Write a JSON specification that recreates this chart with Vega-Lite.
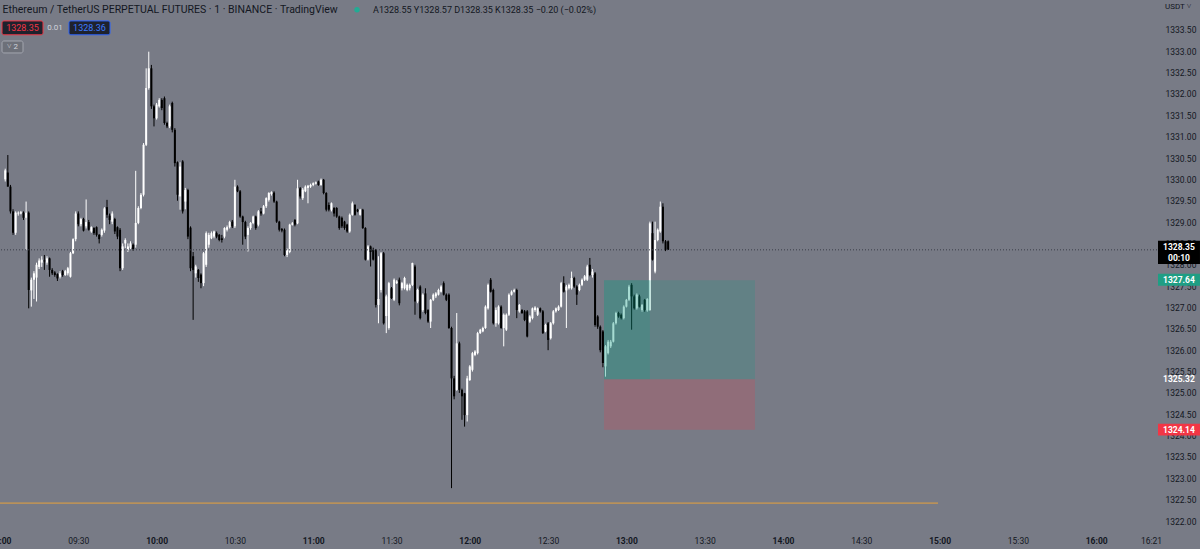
{
"$schema": "https://vega.github.io/schema/vega-lite/v6.json",
"width": 1157,
"height": 527,
"autosize": {"type": "none"},
"padding": {"left": 0, "top": 0, "right": 43, "bottom": 22},
"background": "#787b86",
"config": {"view": {"stroke": null}, "text": {"font": "Roboto"}, "axis": {"grid": false, "domain": false, "ticks": false, "labelFont": "Roboto", "labelFontSize": 8.5, "labelColor": "#131722"}},
"data": {"format": {"parse": {"t": "utc:'%H:%M'"}}, "values": [
{"t":"09:02","o":1330.00,"h":1330.25,"l":1329.95,"c":1330.21},
{"t":"09:03","o":1330.16,"h":1330.57,"l":1329.83,"c":1329.83},
{"t":"09:04","o":1329.83,"h":1329.87,"l":1329.20,"c":1329.25},
{"t":"09:05","o":1329.25,"h":1329.30,"l":1328.70,"c":1328.75},
{"t":"09:06","o":1328.75,"h":1329.25,"l":1328.70,"c":1329.22},
{"t":"09:07","o":1329.20,"h":1329.25,"l":1329.15,"c":1329.22},
{"t":"09:08","o":1329.20,"h":1329.26,"l":1329.18,"c":1329.23},
{"t":"09:09","o":1329.22,"h":1329.25,"l":1329.05,"c":1329.10},
{"t":"09:10","o":1329.10,"h":1329.48,"l":1328.35,"c":1329.22},
{"t":"09:11","o":1329.22,"h":1329.25,"l":1326.98,"c":1327.41},
{"t":"09:12","o":1327.40,"h":1327.70,"l":1327.02,"c":1327.65},
{"t":"09:13","o":1327.65,"h":1327.85,"l":1327.20,"c":1327.80},
{"t":"09:14","o":1327.70,"h":1328.05,"l":1327.14,"c":1328.00},
{"t":"09:15","o":1327.95,"h":1328.15,"l":1327.90,"c":1328.10},
{"t":"09:16","o":1328.05,"h":1328.20,"l":1327.95,"c":1328.12},
{"t":"09:17","o":1328.10,"h":1328.23,"l":1327.88,"c":1328.08},
{"t":"09:18","o":1328.05,"h":1328.20,"l":1328.00,"c":1328.15},
{"t":"09:19","o":1328.15,"h":1328.17,"l":1327.72,"c":1327.88},
{"t":"09:20","o":1327.88,"h":1327.92,"l":1327.76,"c":1327.80},
{"t":"09:21","o":1327.82,"h":1327.85,"l":1327.72,"c":1327.76},
{"t":"09:22","o":1327.78,"h":1327.80,"l":1327.62,"c":1327.68},
{"t":"09:23","o":1327.72,"h":1327.85,"l":1327.68,"c":1327.80},
{"t":"09:24","o":1327.85,"h":1327.88,"l":1327.72,"c":1327.76},
{"t":"09:25","o":1327.76,"h":1327.88,"l":1327.74,"c":1327.85},
{"t":"09:26","o":1327.80,"h":1327.95,"l":1327.75,"c":1327.92},
{"t":"09:27","o":1327.72,"h":1328.30,"l":1327.70,"c":1328.27},
{"t":"09:28","o":1328.27,"h":1328.62,"l":1328.25,"c":1328.60},
{"t":"09:29","o":1328.60,"h":1329.25,"l":1328.55,"c":1329.20},
{"t":"09:30","o":1329.20,"h":1329.25,"l":1328.90,"c":1328.95},
{"t":"09:31","o":1328.95,"h":1329.10,"l":1328.90,"c":1329.07},
{"t":"09:32","o":1329.07,"h":1329.10,"l":1328.78,"c":1328.80},
{"t":"09:33","o":1328.90,"h":1329.53,"l":1328.85,"c":1329.00},
{"t":"09:34","o":1329.00,"h":1329.05,"l":1328.80,"c":1328.82},
{"t":"09:35","o":1328.78,"h":1328.90,"l":1328.75,"c":1328.88},
{"t":"09:36","o":1328.86,"h":1328.88,"l":1328.70,"c":1328.74},
{"t":"09:37","o":1328.88,"h":1328.90,"l":1328.66,"c":1328.70},
{"t":"09:38","o":1328.70,"h":1328.72,"l":1328.50,"c":1328.60},
{"t":"09:39","o":1328.70,"h":1328.85,"l":1328.66,"c":1328.82},
{"t":"09:40","o":1328.80,"h":1329.35,"l":1328.75,"c":1329.32},
{"t":"09:41","o":1329.35,"h":1329.52,"l":1329.10,"c":1329.17},
{"t":"09:42","o":1329.15,"h":1329.20,"l":1328.95,"c":1329.05},
{"t":"09:43","o":1329.01,"h":1329.25,"l":1328.95,"c":1329.20},
{"t":"09:44","o":1329.07,"h":1329.10,"l":1328.72,"c":1328.78},
{"t":"09:45","o":1328.88,"h":1328.90,"l":1328.60,"c":1328.66},
{"t":"09:46","o":1328.82,"h":1328.86,"l":1327.85,"c":1327.92},
{"t":"09:47","o":1327.92,"h":1328.50,"l":1327.88,"c":1328.43},
{"t":"09:48","o":1328.50,"h":1328.62,"l":1328.39,"c":1328.58},
{"t":"09:49","o":1328.35,"h":1328.50,"l":1328.30,"c":1328.43},
{"t":"09:50","o":1328.40,"h":1328.55,"l":1328.35,"c":1328.50},
{"t":"09:51","o":1328.47,"h":1328.50,"l":1328.33,"c":1328.37},
{"t":"09:52","o":1328.47,"h":1330.20,"l":1328.40,"c":1328.98},
{"t":"09:53","o":1328.98,"h":1329.37,"l":1328.95,"c":1329.33},
{"t":"09:54","o":1329.33,"h":1329.68,"l":1329.30,"c":1329.64},
{"t":"09:55","o":1329.64,"h":1330.85,"l":1329.60,"c":1330.81},
{"t":"09:56","o":1330.81,"h":1332.60,"l":1330.78,"c":1332.14},
{"t":"09:57","o":1332.14,"h":1332.99,"l":1332.10,"c":1332.60},
{"t":"09:58","o":1332.60,"h":1332.68,"l":1331.65,"c":1331.71},
{"t":"09:59","o":1331.71,"h":1331.75,"l":1331.24,"c":1331.43},
{"t":"10:00","o":1331.43,"h":1331.79,"l":1331.40,"c":1331.75},
{"t":"10:01","o":1331.71,"h":1331.90,"l":1331.68,"c":1331.86},
{"t":"10:02","o":1331.86,"h":1331.90,"l":1331.62,"c":1331.67},
{"t":"10:03","o":1331.90,"h":1331.94,"l":1331.28,"c":1331.32},
{"t":"10:04","o":1331.32,"h":1331.35,"l":1331.20,"c":1331.24},
{"t":"10:05","o":1331.24,"h":1331.75,"l":1331.20,"c":1331.71},
{"t":"10:06","o":1331.79,"h":1331.82,"l":1331.10,"c":1331.16},
{"t":"10:07","o":1331.16,"h":1331.20,"l":1330.30,"c":1330.38},
{"t":"10:08","o":1330.40,"h":1330.42,"l":1329.50,"c":1329.64},
{"t":"10:09","o":1329.60,"h":1330.40,"l":1329.29,"c":1330.30},
{"t":"10:10","o":1330.42,"h":1330.45,"l":1329.20,"c":1329.25},
{"t":"10:11","o":1329.48,"h":1329.80,"l":1329.30,"c":1329.75},
{"t":"10:12","o":1329.75,"h":1329.78,"l":1328.60,"c":1328.66},
{"t":"10:13","o":1328.87,"h":1328.90,"l":1327.85,"c":1327.92},
{"t":"10:14","o":1328.20,"h":1328.30,"l":1326.71,"c":1327.88},
{"t":"10:15","o":1327.80,"h":1328.00,"l":1327.70,"c":1327.96},
{"t":"10:16","o":1327.88,"h":1327.90,"l":1327.60,"c":1327.69},
{"t":"10:17","o":1327.77,"h":1327.80,"l":1327.45,"c":1327.57},
{"t":"10:18","o":1327.57,"h":1328.30,"l":1327.50,"c":1328.27},
{"t":"10:19","o":1328.00,"h":1328.78,"l":1327.95,"c":1328.74},
{"t":"10:20","o":1328.47,"h":1328.75,"l":1328.40,"c":1328.70},
{"t":"10:21","o":1328.62,"h":1328.78,"l":1328.60,"c":1328.74},
{"t":"10:22","o":1328.66,"h":1328.80,"l":1328.62,"c":1328.78},
{"t":"10:23","o":1328.74,"h":1328.78,"l":1328.62,"c":1328.66},
{"t":"10:24","o":1328.70,"h":1328.72,"l":1328.55,"c":1328.58},
{"t":"10:25","o":1328.62,"h":1328.70,"l":1328.52,"c":1328.58},
{"t":"10:26","o":1328.66,"h":1328.88,"l":1328.62,"c":1328.86},
{"t":"10:27","o":1328.82,"h":1328.92,"l":1328.78,"c":1328.88},
{"t":"10:28","o":1328.88,"h":1329.03,"l":1328.85,"c":1329.00},
{"t":"10:29","o":1329.01,"h":1329.05,"l":1328.86,"c":1328.90},
{"t":"10:30","o":1328.90,"h":1329.99,"l":1328.86,"c":1329.83},
{"t":"10:31","o":1329.83,"h":1329.86,"l":1329.70,"c":1329.72},
{"t":"10:32","o":1329.72,"h":1329.75,"l":1329.10,"c":1329.13},
{"t":"10:33","o":1329.13,"h":1329.15,"l":1328.47,"c":1329.00},
{"t":"10:34","o":1329.00,"h":1329.03,"l":1328.60,"c":1328.66},
{"t":"10:35","o":1328.70,"h":1328.90,"l":1328.31,"c":1328.86},
{"t":"10:36","o":1328.86,"h":1329.00,"l":1328.82,"c":1328.98},
{"t":"10:37","o":1328.98,"h":1329.15,"l":1328.95,"c":1329.13},
{"t":"10:38","o":1329.13,"h":1329.15,"l":1328.82,"c":1328.86},
{"t":"10:39","o":1328.94,"h":1329.28,"l":1328.90,"c":1329.25},
{"t":"10:40","o":1329.25,"h":1329.33,"l":1329.15,"c":1329.20},
{"t":"10:41","o":1329.20,"h":1329.40,"l":1329.18,"c":1329.37},
{"t":"10:42","o":1329.37,"h":1329.58,"l":1329.33,"c":1329.56},
{"t":"10:43","o":1329.52,"h":1329.70,"l":1329.48,"c":1329.68},
{"t":"10:44","o":1329.66,"h":1329.72,"l":1329.62,"c":1329.70},
{"t":"10:45","o":1329.69,"h":1329.72,"l":1329.45,"c":1329.48},
{"t":"10:46","o":1329.48,"h":1329.50,"l":1328.98,"c":1329.01},
{"t":"10:47","o":1329.01,"h":1329.03,"l":1328.78,"c":1328.82},
{"t":"10:48","o":1328.84,"h":1328.86,"l":1328.76,"c":1328.80},
{"t":"10:49","o":1328.82,"h":1328.85,"l":1328.20,"c":1328.23},
{"t":"10:50","o":1328.23,"h":1328.38,"l":1328.18,"c":1328.35},
{"t":"10:51","o":1328.30,"h":1328.96,"l":1328.27,"c":1328.94},
{"t":"10:52","o":1328.94,"h":1329.00,"l":1328.92,"c":1328.97},
{"t":"10:53","o":1329.05,"h":1329.07,"l":1328.90,"c":1328.94},
{"t":"10:54","o":1328.97,"h":1329.99,"l":1328.95,"c":1329.79},
{"t":"10:55","o":1329.79,"h":1329.82,"l":1329.55,"c":1329.60},
{"t":"10:56","o":1329.56,"h":1329.80,"l":1329.52,"c":1329.76},
{"t":"10:57","o":1329.72,"h":1329.86,"l":1329.70,"c":1329.83},
{"t":"10:58","o":1329.80,"h":1329.87,"l":1329.44,"c":1329.85},
{"t":"10:59","o":1329.83,"h":1329.90,"l":1329.80,"c":1329.87},
{"t":"11:00","o":1329.87,"h":1329.93,"l":1329.84,"c":1329.91},
{"t":"11:01","o":1329.90,"h":1329.95,"l":1329.88,"c":1329.93},
{"t":"11:02","o":1329.95,"h":1329.97,"l":1329.85,"c":1329.87},
{"t":"11:03","o":1329.87,"h":1330.02,"l":1329.85,"c":1329.99},
{"t":"11:04","o":1329.99,"h":1330.01,"l":1329.65,"c":1329.68},
{"t":"11:05","o":1329.68,"h":1329.70,"l":1329.25,"c":1329.29},
{"t":"11:06","o":1329.40,"h":1329.46,"l":1329.25,"c":1329.29},
{"t":"11:07","o":1329.29,"h":1329.46,"l":1329.25,"c":1329.44},
{"t":"11:08","o":1329.33,"h":1329.35,"l":1329.13,"c":1329.20},
{"t":"11:09","o":1329.33,"h":1329.35,"l":1329.10,"c":1329.13},
{"t":"11:10","o":1329.13,"h":1329.15,"l":1328.82,"c":1328.86},
{"t":"11:11","o":1329.10,"h":1329.13,"l":1328.86,"c":1328.90},
{"t":"11:12","o":1329.01,"h":1329.03,"l":1328.82,"c":1328.86},
{"t":"11:13","o":1328.94,"h":1328.96,"l":1328.75,"c":1328.78},
{"t":"11:14","o":1328.78,"h":1329.20,"l":1328.75,"c":1329.17},
{"t":"11:15","o":1329.17,"h":1329.48,"l":1329.15,"c":1329.44},
{"t":"11:16","o":1329.40,"h":1329.42,"l":1329.15,"c":1329.17},
{"t":"11:17","o":1329.29,"h":1329.31,"l":1329.23,"c":1329.25},
{"t":"11:18","o":1329.17,"h":1329.31,"l":1329.15,"c":1329.29},
{"t":"11:19","o":1329.29,"h":1329.31,"l":1328.84,"c":1328.86},
{"t":"11:20","o":1328.86,"h":1328.88,"l":1328.10,"c":1328.12},
{"t":"11:21","o":1328.12,"h":1328.46,"l":1328.10,"c":1328.43},
{"t":"11:22","o":1328.43,"h":1328.45,"l":1327.96,"c":1328.30},
{"t":"11:23","o":1328.35,"h":1328.40,"l":1328.10,"c":1328.12},
{"t":"11:24","o":1328.35,"h":1328.37,"l":1327.00,"c":1327.06},
{"t":"11:25","o":1327.06,"h":1328.20,"l":1326.63,"c":1327.20},
{"t":"11:26","o":1327.41,"h":1328.30,"l":1327.35,"c":1328.27},
{"t":"11:27","o":1328.27,"h":1328.30,"l":1326.60,"c":1326.63},
{"t":"11:28","o":1326.80,"h":1327.30,"l":1326.40,"c":1327.26},
{"t":"11:29","o":1326.52,"h":1327.60,"l":1326.48,"c":1327.57},
{"t":"11:30","o":1327.45,"h":1327.48,"l":1327.20,"c":1327.22},
{"t":"11:31","o":1327.18,"h":1327.68,"l":1327.15,"c":1327.65},
{"t":"11:32","o":1327.57,"h":1327.64,"l":1327.55,"c":1327.61},
{"t":"11:33","o":1327.65,"h":1327.70,"l":1327.05,"c":1327.10},
{"t":"11:34","o":1327.45,"h":1327.60,"l":1327.40,"c":1327.57},
{"t":"11:35","o":1327.45,"h":1327.72,"l":1327.42,"c":1327.69},
{"t":"11:36","o":1327.41,"h":1327.56,"l":1327.38,"c":1327.53},
{"t":"11:37","o":1327.45,"h":1327.56,"l":1327.40,"c":1327.53},
{"t":"11:38","o":1327.53,"h":1328.05,"l":1327.50,"c":1328.04},
{"t":"11:39","o":1327.96,"h":1328.00,"l":1326.83,"c":1327.14},
{"t":"11:40","o":1327.14,"h":1327.44,"l":1327.10,"c":1327.41},
{"t":"11:41","o":1327.49,"h":1327.52,"l":1326.72,"c":1326.75},
{"t":"11:42","o":1326.94,"h":1327.33,"l":1326.90,"c":1327.30},
{"t":"11:43","o":1327.33,"h":1327.45,"l":1326.84,"c":1326.87},
{"t":"11:44","o":1326.94,"h":1326.96,"l":1326.64,"c":1326.67},
{"t":"11:45","o":1326.67,"h":1327.20,"l":1326.52,"c":1327.18},
{"t":"11:46","o":1327.18,"h":1327.33,"l":1327.15,"c":1327.30},
{"t":"11:47","o":1327.26,"h":1327.36,"l":1327.22,"c":1327.33},
{"t":"11:48","o":1327.30,"h":1327.44,"l":1327.28,"c":1327.41},
{"t":"11:49","o":1327.37,"h":1327.52,"l":1327.35,"c":1327.49},
{"t":"11:50","o":1327.57,"h":1327.61,"l":1327.28,"c":1327.30},
{"t":"11:51","o":1327.30,"h":1327.33,"l":1327.15,"c":1327.18},
{"t":"11:52","o":1327.30,"h":1327.33,"l":1326.50,"c":1326.52},
{"t":"11:53","o":1326.52,"h":1326.55,"l":1322.77,"c":1325.34},
{"t":"11:54","o":1325.34,"h":1325.40,"l":1324.85,"c":1324.92},
{"t":"11:55","o":1325.07,"h":1326.87,"l":1325.05,"c":1326.16},
{"t":"11:56","o":1326.16,"h":1326.20,"l":1325.00,"c":1325.07},
{"t":"11:57","o":1325.07,"h":1325.10,"l":1324.37,"c":1324.92},
{"t":"11:58","o":1324.99,"h":1325.00,"l":1324.21,"c":1324.48},
{"t":"11:59","o":1324.48,"h":1325.40,"l":1324.33,"c":1325.34},
{"t":"12:00","o":1325.30,"h":1325.65,"l":1325.28,"c":1325.62},
{"t":"12:01","o":1325.54,"h":1325.96,"l":1325.50,"c":1325.93},
{"t":"12:02","o":1325.89,"h":1326.00,"l":1325.86,"c":1325.97},
{"t":"12:03","o":1325.93,"h":1326.43,"l":1325.90,"c":1326.40},
{"t":"12:04","o":1326.40,"h":1326.50,"l":1326.38,"c":1326.48},
{"t":"12:05","o":1326.44,"h":1326.55,"l":1326.42,"c":1326.52},
{"t":"12:06","o":1326.52,"h":1327.05,"l":1326.50,"c":1327.02},
{"t":"12:07","o":1326.98,"h":1327.56,"l":1326.95,"c":1327.53},
{"t":"12:08","o":1327.65,"h":1327.69,"l":1327.35,"c":1327.37},
{"t":"12:09","o":1327.41,"h":1327.44,"l":1326.60,"c":1326.63},
{"t":"12:10","o":1326.63,"h":1327.00,"l":1326.55,"c":1326.94},
{"t":"12:11","o":1326.63,"h":1327.05,"l":1326.60,"c":1327.02},
{"t":"12:12","o":1327.02,"h":1327.05,"l":1326.50,"c":1326.52},
{"t":"12:13","o":1326.52,"h":1326.86,"l":1326.09,"c":1326.83},
{"t":"12:14","o":1326.48,"h":1326.86,"l":1326.45,"c":1326.83},
{"t":"12:15","o":1326.83,"h":1327.33,"l":1326.80,"c":1327.30},
{"t":"12:16","o":1327.30,"h":1327.40,"l":1327.28,"c":1327.37},
{"t":"12:17","o":1327.37,"h":1327.44,"l":1327.35,"c":1327.41},
{"t":"12:18","o":1327.41,"h":1327.44,"l":1326.75,"c":1326.94},
{"t":"12:19","o":1326.91,"h":1327.08,"l":1326.88,"c":1327.06},
{"t":"12:20","o":1326.94,"h":1326.96,"l":1326.85,"c":1326.87},
{"t":"12:21","o":1326.91,"h":1326.94,"l":1326.68,"c":1326.71},
{"t":"12:22","o":1326.91,"h":1326.94,"l":1326.30,"c":1326.32},
{"t":"12:23","o":1326.67,"h":1326.82,"l":1326.64,"c":1326.79},
{"t":"12:24","o":1326.75,"h":1327.00,"l":1326.72,"c":1326.98},
{"t":"12:25","o":1326.94,"h":1327.03,"l":1326.90,"c":1327.00},
{"t":"12:26","o":1326.83,"h":1327.00,"l":1326.80,"c":1326.98},
{"t":"12:27","o":1326.98,"h":1327.00,"l":1326.88,"c":1326.91},
{"t":"12:28","o":1326.91,"h":1326.94,"l":1326.38,"c":1326.40},
{"t":"12:29","o":1326.44,"h":1326.62,"l":1326.42,"c":1326.59},
{"t":"12:30","o":1326.63,"h":1326.66,"l":1326.00,"c":1326.24},
{"t":"12:31","o":1326.28,"h":1326.66,"l":1326.25,"c":1326.63},
{"t":"12:32","o":1326.63,"h":1326.94,"l":1326.60,"c":1326.91},
{"t":"12:33","o":1326.91,"h":1327.00,"l":1326.88,"c":1326.98},
{"t":"12:34","o":1326.94,"h":1327.05,"l":1326.92,"c":1327.02},
{"t":"12:35","o":1327.02,"h":1327.60,"l":1327.00,"c":1327.57},
{"t":"12:36","o":1327.57,"h":1327.73,"l":1327.35,"c":1327.37},
{"t":"12:37","o":1327.40,"h":1327.53,"l":1326.52,"c":1327.49},
{"t":"12:38","o":1327.45,"h":1327.56,"l":1327.42,"c":1327.53},
{"t":"12:39","o":1327.45,"h":1327.84,"l":1327.42,"c":1327.69},
{"t":"12:40","o":1327.69,"h":1327.72,"l":1327.46,"c":1327.49},
{"t":"12:41","o":1327.49,"h":1327.52,"l":1327.06,"c":1327.30},
{"t":"12:42","o":1327.41,"h":1327.56,"l":1327.38,"c":1327.53},
{"t":"12:43","o":1327.53,"h":1327.68,"l":1327.50,"c":1327.65},
{"t":"12:44","o":1327.65,"h":1327.76,"l":1327.62,"c":1327.73},
{"t":"12:45","o":1327.65,"h":1328.00,"l":1327.62,"c":1327.96},
{"t":"12:46","o":1328.00,"h":1328.16,"l":1327.73,"c":1327.76},
{"t":"12:47","o":1327.76,"h":1327.90,"l":1327.70,"c":1327.84},
{"t":"12:48","o":1327.80,"h":1327.83,"l":1326.55,"c":1326.59},
{"t":"12:49","o":1326.79,"h":1326.82,"l":1326.50,"c":1326.55},
{"t":"12:50","o":1326.55,"h":1326.58,"l":1325.95,"c":1326.00},
{"t":"12:51","o":1326.44,"h":1326.47,"l":1325.60,"c":1325.70},
{"t":"12:52","o":1325.62,"h":1326.12,"l":1325.38,"c":1326.09},
{"t":"12:53","o":1325.93,"h":1326.24,"l":1325.90,"c":1326.20},
{"t":"12:54","o":1326.09,"h":1326.24,"l":1326.05,"c":1326.20},
{"t":"12:55","o":1326.20,"h":1326.66,"l":1326.18,"c":1326.63},
{"t":"12:56","o":1326.63,"h":1326.90,"l":1326.60,"c":1326.87},
{"t":"12:57","o":1326.87,"h":1326.90,"l":1326.76,"c":1326.79},
{"t":"12:58","o":1326.83,"h":1326.86,"l":1326.72,"c":1326.75},
{"t":"12:59","o":1326.75,"h":1327.05,"l":1326.72,"c":1327.02},
{"t":"13:00","o":1327.02,"h":1327.20,"l":1327.00,"c":1327.18},
{"t":"13:01","o":1327.18,"h":1327.53,"l":1327.15,"c":1327.49},
{"t":"13:02","o":1327.53,"h":1327.57,"l":1326.48,"c":1327.26},
{"t":"13:03","o":1327.26,"h":1327.30,"l":1326.95,"c":1326.98},
{"t":"13:04","o":1326.98,"h":1327.33,"l":1326.95,"c":1327.30},
{"t":"13:05","o":1327.26,"h":1327.30,"l":1327.00,"c":1327.02},
{"t":"13:06","o":1326.94,"h":1327.08,"l":1326.90,"c":1327.06},
{"t":"13:07","o":1327.18,"h":1327.20,"l":1326.90,"c":1326.94},
{"t":"13:08","o":1326.93,"h":1327.22,"l":1326.90,"c":1327.20},
{"t":"13:09","o":1326.94,"h":1329.01,"l":1326.92,"c":1328.97},
{"t":"13:10","o":1328.74,"h":1329.01,"l":1328.10,"c":1328.12},
{"t":"13:11","o":1327.84,"h":1329.01,"l":1327.80,"c":1328.58},
{"t":"13:12","o":1328.58,"h":1328.85,"l":1328.55,"c":1328.82},
{"t":"13:13","o":1328.78,"h":1329.48,"l":1328.75,"c":1329.36},
{"t":"13:14","o":1329.36,"h":1329.44,"l":1328.50,"c":1328.55},
{"t":"13:15","o":1328.55,"h":1328.58,"l":1328.32,"c":1328.35},
{"t":"13:16","o":1328.55,"h":1328.57,"l":1328.35,"c":1328.35}
]},
"layer": [
{
"mark": {"type": "rule", "strokeWidth": 1},
"encoding": {
"x": {"field": "t", "type": "temporal", "scale": {"type": "utc", "padding": 0, "domain": [{"year": 1900, "month": 1, "date": 1, "hours": 9, "minutes": 0, "utc": true}, {"year": 1900, "month": 1, "date": 1, "hours": 16, "minutes": 23, "seconds": 18, "utc": true}]},
"axis": {"orient": "bottom", "title": null, "format": "%H:%M", "tickCount": 60, "labelPadding": 9, "labelFlush": false, "labelOverlap": false,
"labelFontWeight": {"condition": {"test": "utcminutes(datum.value) === 0", "value": "bold"}, "value": "normal"},
"values": [
{"year": 1900, "month": 1, "date": 1, "hours": 9, "minutes": 0, "utc": true},
{"year": 1900, "month": 1, "date": 1, "hours": 9, "minutes": 30, "utc": true},
{"year": 1900, "month": 1, "date": 1, "hours": 10, "minutes": 0, "utc": true},
{"year": 1900, "month": 1, "date": 1, "hours": 10, "minutes": 30, "utc": true},
{"year": 1900, "month": 1, "date": 1, "hours": 11, "minutes": 0, "utc": true},
{"year": 1900, "month": 1, "date": 1, "hours": 11, "minutes": 30, "utc": true},
{"year": 1900, "month": 1, "date": 1, "hours": 12, "minutes": 0, "utc": true},
{"year": 1900, "month": 1, "date": 1, "hours": 12, "minutes": 30, "utc": true},
{"year": 1900, "month": 1, "date": 1, "hours": 13, "minutes": 0, "utc": true},
{"year": 1900, "month": 1, "date": 1, "hours": 13, "minutes": 30, "utc": true},
{"year": 1900, "month": 1, "date": 1, "hours": 14, "minutes": 0, "utc": true},
{"year": 1900, "month": 1, "date": 1, "hours": 14, "minutes": 30, "utc": true},
{"year": 1900, "month": 1, "date": 1, "hours": 15, "minutes": 0, "utc": true},
{"year": 1900, "month": 1, "date": 1, "hours": 15, "minutes": 30, "utc": true},
{"year": 1900, "month": 1, "date": 1, "hours": 16, "minutes": 0, "utc": true},
{"year": 1900, "month": 1, "date": 1, "hours": 16, "minutes": 21, "utc": true}
]}},
"y": {"field": "l", "type": "quantitative", "scale": {"domain": [1321.86, 1334.2], "zero": false, "nice": false, "padding": 0},
"axis": {"orient": "right", "title": null, "format": ".2f", "tickCount": 60, "labelPadding": 8, "labelAlign": "left", "labelBaseline": "middle", "labelOverlap": false,
"values": [1322, 1322.5, 1323, 1323.5, 1324, 1324.5, 1325, 1325.5, 1326, 1326.5, 1327, 1327.5, 1328, 1328.5, 1329, 1329.5, 1330, 1330.5, 1331, 1331.5, 1332, 1332.5, 1333, 1333.5]}},
"y2": {"field": "h"},
"color": {"condition": {"test": "datum.c >= datum.o", "value": "#ffffff"}, "value": "#000000"}
}
},
{
"mark": {"type": "bar", "width": 2},
"encoding": {
"x": {"field": "t", "type": "temporal", "axis": {"title": null}},
"y": {"field": "o", "type": "quantitative", "axis": {"title": null}},
"y2": {"field": "c"},
"color": {"condition": {"test": "datum.c >= datum.o", "value": "#ffffff"}, "value": "#000000"}
}
},
{
"data": {"values": [{"p": 1328.35}]},
"mark": {"type": "rule", "color": "#3b3e48", "strokeWidth": 1, "strokeDash": [1, 2]},
"encoding": {"y": {"field": "p", "type": "quantitative", "axis": {"title": null}}}
},
{
"data": {"values": [{"t1": "09:00:00", "t2": "14:59:23", "p": 1322.42}], "format": {"parse": {"t1": "utc:'%H:%M:%S'", "t2": "utc:'%H:%M:%S'"}}},
"mark": {"type": "rule", "color": "#e8a33c", "strokeWidth": 1},
"encoding": {"x": {"field": "t1", "type": "temporal", "axis": {"title": null}}, "x2": {"field": "t2"}, "y": {"field": "p", "type": "quantitative", "axis": {"title": null}}}
},
{
"data": {"values": [{"t1": "12:51:25", "t2": "13:49:16", "p1": 1325.32, "p2": 1327.64}, {"t1": "12:51:25", "t2": "13:09:00", "p1": 1325.32, "p2": 1327.64}], "format": {"parse": {"t1": "utc:'%H:%M:%S'", "t2": "utc:'%H:%M:%S'"}}},
"mark": {"type": "rect", "color": "#089981", "opacity": 0.2},
"encoding": {"x": {"field": "t1", "type": "temporal", "axis": {"title": null}}, "x2": {"field": "t2"}, "y": {"field": "p1", "type": "quantitative", "axis": {"title": null}}, "y2": {"field": "p2"}}
},
{
"data": {"values": [{"t1": "12:51:25", "t2": "13:49:16", "p1": 1324.14, "p2": 1325.32}], "format": {"parse": {"t1": "utc:'%H:%M:%S'", "t2": "utc:'%H:%M:%S'"}}},
"mark": {"type": "rect", "color": "#f23645", "opacity": 0.2},
"encoding": {"x": {"field": "t1", "type": "temporal", "axis": {"title": null}}, "x2": {"field": "t2"}, "y": {"field": "p1", "type": "quantitative", "axis": {"title": null}}, "y2": {"field": "p2"}}
},
{
"data": {"values": [{"t": "09:01:00", "p": 1333.97, "s": "Ethereum / TetherUS PERPETUAL FUTURES · 1 · BINANCE · TradingView"}], "format": {"parse": {"t": "utc:'%H:%M:%S'"}}},
"mark": {"type": "text", "align": "left", "baseline": "middle", "fontSize": 10.5, "color": "#131722"},
"encoding": {"x": {"field": "t", "type": "temporal", "axis": {"title": null}}, "y": {"field": "p", "type": "quantitative", "axis": {"title": null}}, "text": {"field": "s"}}
},
{
"data": {"values": [{"t": "11:16:47", "p": 1333.97}], "format": {"parse": {"t": "utc:'%H:%M:%S'"}}},
"mark": {"type": "circle", "size": 30, "color": "#22ab94", "opacity": 1},
"encoding": {"x": {"field": "t", "type": "temporal", "axis": {"title": null}}, "y": {"field": "p", "type": "quantitative", "axis": {"title": null}}}
},
{
"data": {"values": [{"t": "11:22:55", "p": 1333.97, "s": "A1328.55  Y1328.57  D1328.35  K1328.35  −0.20 (−0.02%)"}], "format": {"parse": {"t": "utc:'%H:%M:%S'"}}},
"mark": {"type": "text", "align": "left", "baseline": "middle", "fontSize": 9, "color": "#131722"},
"encoding": {"x": {"field": "t", "type": "temporal", "axis": {"title": null}}, "y": {"field": "p", "type": "quantitative", "axis": {"title": null}}, "text": {"field": "s"}}
},
{
"data": {"values": [{"t1": "09:00:46", "t2": "09:16:29", "p1": 1333.385, "p2": 1333.71}], "format": {"parse": {"t1": "utc:'%H:%M:%S'", "t2": "utc:'%H:%M:%S'"}}},
"mark": {"type": "rect", "fill": "#1e222d", "stroke": "#f23645", "strokeWidth": 1, "cornerRadius": 2},
"encoding": {"x": {"field": "t1", "type": "temporal", "axis": {"title": null}}, "x2": {"field": "t2"}, "y": {"field": "p1", "type": "quantitative", "axis": {"title": null}}, "y2": {"field": "p2"}}
},
{
"data": {"values": [{"t1": "09:26:26", "t2": "09:42:09", "p1": 1333.385, "p2": 1333.71}], "format": {"parse": {"t1": "utc:'%H:%M:%S'", "t2": "utc:'%H:%M:%S'"}}},
"mark": {"type": "rect", "fill": "#1e222d", "stroke": "#2962ff", "strokeWidth": 1, "cornerRadius": 2},
"encoding": {"x": {"field": "t1", "type": "temporal", "axis": {"title": null}}, "x2": {"field": "t2"}, "y": {"field": "p1", "type": "quantitative", "axis": {"title": null}}, "y2": {"field": "p2"}}
},
{
"data": {"values": [{"t1": "09:00:46", "t2": "09:08:49", "p1": 1332.96, "p2": 1333.24}], "format": {"parse": {"t1": "utc:'%H:%M:%S'", "t2": "utc:'%H:%M:%S'"}}},
"mark": {"type": "rect", "fill": "#6d7079", "stroke": "#a3a6af", "strokeWidth": 1, "cornerRadius": 2},
"encoding": {"x": {"field": "t1", "type": "temporal", "axis": {"title": null}}, "x2": {"field": "t2"}, "y": {"field": "p1", "type": "quantitative", "axis": {"title": null}}, "y2": {"field": "p2"}}
},
{
"data": {"values": [{"t": "09:08:37", "p": 1333.55, "s": "1328.35"}], "format": {"parse": {"t": "utc:'%H:%M:%S'"}}},
"mark": {"type": "text", "align": "center", "baseline": "middle", "fontSize": 9, "color": "#f23645"},
"encoding": {"x": {"field": "t", "type": "temporal", "axis": {"title": null}}, "y": {"field": "p", "type": "quantitative", "axis": {"title": null}}, "text": {"field": "s"}}
},
{
"data": {"values": [{"t": "09:34:17", "p": 1333.55, "s": "1328.36"}], "format": {"parse": {"t": "utc:'%H:%M:%S'"}}},
"mark": {"type": "text", "align": "center", "baseline": "middle", "fontSize": 9, "color": "#3d7bff"},
"encoding": {"x": {"field": "t", "type": "temporal", "axis": {"title": null}}, "y": {"field": "p", "type": "quantitative", "axis": {"title": null}}, "text": {"field": "s"}}
},
{
"data": {"values": [{"t": "09:21:04", "p": 1333.55, "s": "0.01"}, {"t": "09:04:47", "p": 1333.10, "s": "˅ 2"}], "format": {"parse": {"t": "utc:'%H:%M:%S'"}}},
"mark": {"type": "text", "align": "center", "baseline": "middle", "fontSize": 8, "color": "#d1d4dc"},
"encoding": {"x": {"field": "t", "type": "temporal", "axis": {"title": null}}, "y": {"field": "p", "type": "quantitative", "axis": {"title": null}}, "text": {"field": "s"}}
},
{
"data": {"values": [{"t": "16:26:22", "p": 1334.04, "s": "USDT ˅"}], "format": {"parse": {"t": "utc:'%H:%M:%S'"}}},
"mark": {"type": "text", "align": "left", "baseline": "middle", "fontSize": 8, "color": "#131722"},
"encoding": {"x": {"field": "t", "type": "temporal", "axis": {"title": null}}, "y": {"field": "p", "type": "quantitative", "axis": {"title": null}}, "text": {"field": "s"}}
},
{
"data": {"values": [{"t1": "16:23:41", "t2": "16:39:46", "p1": 1328.02, "p2": 1328.56}], "format": {"parse": {"t1": "utc:'%H:%M:%S'", "t2": "utc:'%H:%M:%S'"}}},
"mark": {"type": "rect", "fill": "#000000"},
"encoding": {"x": {"field": "t1", "type": "temporal", "axis": {"title": null}}, "x2": {"field": "t2"}, "y": {"field": "p1", "type": "quantitative", "axis": {"title": null}}, "y2": {"field": "p2"}}
},
{
"data": {"values": [{"t1": "16:23:41", "t2": "16:39:46", "p1": 1327.51, "p2": 1327.79}], "format": {"parse": {"t1": "utc:'%H:%M:%S'", "t2": "utc:'%H:%M:%S'"}}},
"mark": {"type": "rect", "fill": "#1f9e84"},
"encoding": {"x": {"field": "t1", "type": "temporal", "axis": {"title": null}}, "x2": {"field": "t2"}, "y": {"field": "p1", "type": "quantitative", "axis": {"title": null}}, "y2": {"field": "p2"}}
},
{
"data": {"values": [{"t1": "16:23:41", "t2": "16:39:46", "p1": 1324.00, "p2": 1324.28}], "format": {"parse": {"t1": "utc:'%H:%M:%S'", "t2": "utc:'%H:%M:%S'"}}},
"mark": {"type": "rect", "fill": "#f23645"},
"encoding": {"x": {"field": "t1", "type": "temporal", "axis": {"title": null}}, "x2": {"field": "t2"}, "y": {"field": "p1", "type": "quantitative", "axis": {"title": null}}, "y2": {"field": "p2"}}
},
{
"data": {"values": [{"t": "16:31:43", "p": 1328.41, "s": "1328.35"}, {"t": "16:31:43", "p": 1328.16, "s": "00:10"}, {"t": "16:31:43", "p": 1327.64, "s": "1327.64"}, {"t": "16:31:43", "p": 1325.32, "s": "1325.32"}, {"t": "16:31:43", "p": 1324.14, "s": "1324.14"}], "format": {"parse": {"t": "utc:'%H:%M:%S'"}}},
"mark": {"type": "text", "align": "center", "baseline": "middle", "fontSize": 8.5, "fontWeight": "bold", "color": "#ffffff"},
"encoding": {"x": {"field": "t", "type": "temporal", "axis": {"title": null}}, "y": {"field": "p", "type": "quantitative", "axis": {"title": null}}, "text": {"field": "s"}}
}
]
}
